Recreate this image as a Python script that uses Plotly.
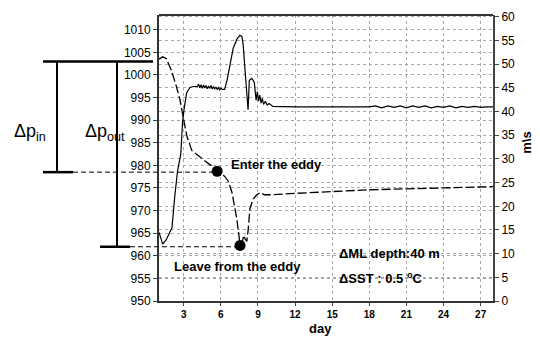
import plotly.graph_objects as go

# ---- data ----
p_day = [1.0, 1.3, 1.6, 2.0, 2.4, 2.7, 3.0, 3.25, 3.65, 4.2, 4.7, 5.2, 5.7, 6.3, 6.6, 6.9,
         7.1, 7.3, 7.55, 7.75, 7.85, 7.95, 8.1, 8.2, 8.35, 8.6, 8.9, 9.2, 9.5, 10, 12, 15, 18,
         21, 24, 27.5, 28]
p_val = [1003.5, 1004.0, 1003.6, 1001.0, 997.5, 994.5, 990.0, 986.5, 983.3, 982.0, 981.0,
         980.0, 978.7, 977.6, 976.5, 974.0, 971.0, 968.0, 962.5, 963.2, 964.5, 963.8, 963.2,
         965.5, 970.4, 972.5, 973.5, 974.0, 973.5, 973.5, 973.8, 974.2, 974.6, 974.8, 975.0,
         975.3, 975.3]

w_day = [1.0, 1.15, 1.3, 1.6, 1.9, 2.05, 2.27, 2.5, 2.76, 2.9, 3.05, 3.24, 3.5, 3.8, 4.1,
         4.2, 4.3, 4.4, 4.5, 4.6, 4.7, 4.8, 4.9, 5.0, 5.1, 5.2, 5.3, 5.4, 5.5, 5.6, 5.7, 5.8,
         5.9, 6.0, 6.1, 6.3, 6.5, 6.7, 7.0, 7.3, 7.54, 7.7, 7.8, 8.0, 8.2, 8.3, 8.5, 8.7,
         8.85, 8.95, 9.05, 9.15, 9.25, 9.35, 9.45, 9.6, 9.75, 9.9, 10.2, 12, 15, 18, 18.5,
         19, 19.5, 20, 20.5, 21, 21.5, 22, 22.5, 23, 23.5, 24, 24.5, 25, 25.5, 26, 26.5, 27,
         27.5, 28]
w_val = [14.5, 13.0, 12.0, 13.0, 14.5, 15.5, 22.0, 27.5, 31.0, 37.7, 41.0, 44.0, 45.1, 45.3,
         45.3, 45.8, 45.0, 45.7, 44.9, 45.6, 45.0, 45.5, 44.8, 45.4, 44.9, 45.5, 44.8, 45.3,
         44.7, 45.2, 44.7, 45.1, 44.6, 45.0, 44.7, 44.7, 46.6, 49.3, 53.4, 55.3, 56.1, 55.9,
         54.2, 47.2, 40.4, 46.6, 47.0, 46.2, 42.4, 44.2, 42.2, 43.5, 41.8, 42.8, 41.5, 42.2,
         41.4, 41.7, 41.1, 41.0, 41.0, 41.0, 41.2, 40.8, 41.2, 40.9, 41.2, 40.8, 41.2, 40.9,
         41.2, 40.8, 41.1, 40.9, 41.2, 40.8, 41.1, 40.9, 41.1, 40.9, 41.0, 41.0]

enter_day, enter_p = 5.7, 978.7
leave_day, leave_p = 7.55, 962.3
p_top = 1003.0
p_in_low = 978.5
p_out_low = 962.0

x_ticks = [3, 6, 9, 12, 15, 18, 21, 24, 27]
left_ticks = list(range(950, 1011, 5))
right_ticks = list(range(0, 61, 5))

X0, X1 = 1.0, 28.0
FONT = "Liberation Sans, Arial, sans-serif"

fig = go.Figure()
fig.add_trace(go.Scatter(x=p_day, y=p_val, mode="lines", yaxis="y",
                         line=dict(color="black", width=1.3, dash="9px,3px"), showlegend=False))
fig.add_trace(go.Scatter(x=w_day, y=w_val, mode="lines", yaxis="y2",
                         line=dict(color="black", width=1.2), showlegend=False))
fig.add_trace(go.Scatter(x=[enter_day, leave_day], y=[enter_p, leave_p], mode="markers",
                         yaxis="y", marker=dict(color="black", size=11), showlegend=False))

grid = dict(showgrid=True, gridcolor="#a8a8a8", gridwidth=1, griddash="dot")

fig.update_layout(
    width=540, height=340,
    margin=dict(l=159, r=47, t=10, b=39),
    paper_bgcolor="white", plot_bgcolor="white",
    font=dict(family=FONT, color="black"),
    xaxis=dict(range=[X0, X1], tickvals=x_ticks, ticks="outside", ticklen=3,
               tickfont=dict(size=10, weight="bold"), showline=True, linecolor="#333",
               linewidth=2, zeroline=False, **grid),
    yaxis=dict(range=[950, 1013.26], tickvals=left_ticks, ticks="outside", ticklen=4,
               tickfont=dict(size=12), showline=True, linecolor="#333", linewidth=2,
               zeroline=False, **grid),
    yaxis2=dict(range=[0, 60.4], tickvals=right_ticks, ticks="outside", ticklen=4,
                tickfont=dict(size=12), overlaying="y", side="right", showline=True,
                linecolor="#444", linewidth=2, zeroline=False, **grid),
)

def px2paper(px):
    return (px - 159) / 334.0

def day2paper(d):
    return (d - X0) / (X1 - X0)

shapes = []
shapes.append(dict(type="line", xref="paper", yref="paper", x0=0, x1=1, y0=1, y1=1,
                   line=dict(color="#333", width=2)))
shapes.append(dict(type="line", xref="paper", yref="y", x0=px2paper(43), x1=px2paper(153),
                   y0=p_top, y1=p_top, line=dict(color="black", width=2.5)))
shapes.append(dict(type="line", xref="paper", yref="y", x0=px2paper(43), x1=px2paper(73),
                   y0=p_in_low, y1=p_in_low, line=dict(color="black", width=2.5)))
shapes.append(dict(type="line", xref="paper", yref="y", x0=px2paper(100), x1=px2paper(130),
                   y0=p_out_low, y1=p_out_low, line=dict(color="black", width=2.5)))
shapes.append(dict(type="line", xref="paper", yref="y", x0=px2paper(57), x1=px2paper(57),
                   y0=p_top, y1=p_in_low, line=dict(color="black", width=2)))
shapes.append(dict(type="line", xref="paper", yref="y", x0=px2paper(117), x1=px2paper(117),
                   y0=p_top, y1=p_out_low, line=dict(color="black", width=2)))
shapes.append(dict(type="line", xref="paper", yref="y", x0=px2paper(73), x1=day2paper(enter_day),
                   y0=p_in_low, y1=p_in_low, line=dict(color="black", width=1, dash="5px,3px")))
shapes.append(dict(type="line", xref="paper", yref="y", x0=px2paper(130), x1=day2paper(leave_day),
                   y0=p_out_low, y1=p_out_low, line=dict(color="black", width=1, dash="5px,3px")))
fig.update_layout(shapes=shapes)

bold = dict(family=FONT, size=13, color="black", weight="bold")
ann = [
    dict(text="Δp<sub>in</sub>", xref="paper", yref="paper", x=px2paper(12), y=(301-130)/291,
         xanchor="left", yanchor="middle", showarrow=False, font=dict(family=FONT, size=18)),
    dict(text="Δp<sub>out</sub>", xref="paper", yref="paper", x=px2paper(83), y=(301-130)/291,
         xanchor="left", yanchor="middle", showarrow=False, font=dict(family=FONT, size=18)),
    dict(text="Enter the eddy", xref="paper", yref="paper", x=px2paper(229), y=(301-162)/291,
         xanchor="left", yanchor="middle", showarrow=False, font=bold),
    dict(text="Leave from the eddy", xref="paper", yref="paper", x=px2paper(172), y=(301-266)/291,
         xanchor="left", yanchor="middle", showarrow=False, font=bold),
    dict(text="ΔML depth:40 m", xref="paper", yref="paper", x=px2paper(337), y=(301-253)/291,
         xanchor="left", yanchor="middle", showarrow=False, font=bold),
    dict(text="ΔSST : 0.5 <sup>o</sup>C", xref="paper", yref="paper", x=px2paper(337), y=(301-278)/291,
         xanchor="left", yanchor="middle", showarrow=False, font=bold),
    dict(text="day", xref="paper", yref="paper", x=px2paper(320), y=(301-329)/291,
         xanchor="center", yanchor="middle", showarrow=False, font=bold),
    dict(text="m\\s", xref="paper", yref="paper", x=px2paper(527), y=(301-140)/291,
         xanchor="center", yanchor="middle", showarrow=False, textangle=-90, font=bold),
]
fig.update_layout(annotations=ann)

fig.write_html("out.html", config={"displayModeBar": False},
               post_script="document.body.style.margin='0';")
